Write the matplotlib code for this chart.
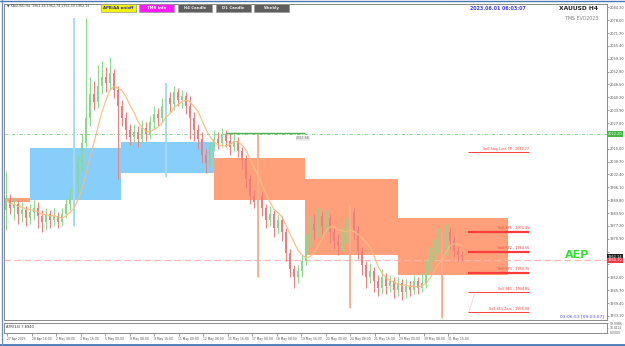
import numpy as np
import pandas as pd
import matplotlib.pyplot as plt
import matplotlib.patches as mpatches
from matplotlib.transforms import blended_transform_factory


# 1 - Data (XAUUSD H4)

opens = np.array([
    1985, 1990, 1986, 1988, 1983, 1985, 1981, 1984, 1986, 1982,
    1979, 1983, 1980, 1982, 1979, 1983, 1988, 1992, 1998, 2008,
    2018, 2030, 2042, 2038, 2046, 2050, 2047, 2052, 2044, 2036,
    2030, 2024, 2021, 2023, 2020, 2025, 2022, 2028, 2032, 2030,
    2036, 2040, 2037, 2043, 2039, 2041, 2036, 2030, 2024, 2020,
    2012, 2008, 2016, 2020, 2018, 2022, 2019, 2016, 2019, 2014,
    2010, 2000, 1992, 1989, 1992, 1986, 1980, 1983, 1976, 1980,
    1974, 1964, 1956, 1952, 1955, 1960, 1970, 1978, 1975, 1982,
    1977, 1981, 1974, 1970, 1968, 1972, 1978, 1984, 1975, 1965,
    1958, 1952, 1955, 1950, 1947, 1952, 1948, 1950, 1946, 1949,
    1945, 1948, 1946, 1950, 1947, 1949, 1958, 1964, 1968, 1972,
    1966, 1974, 1970, 1965, 1963], dtype=float)
closes = np.array([
    1990, 1986, 1988, 1983, 1985, 1981, 1984, 1986, 1982, 1979,
    1983, 1980, 1982, 1979, 1983, 1988, 1992, 1998, 2008, 2018,
    2030, 2042, 2038, 2046, 2050, 2047, 2052, 2044, 2036, 2030,
    2024, 2021, 2023, 2020, 2025, 2022, 2028, 2032, 2030, 2036,
    2040, 2037, 2043, 2039, 2041, 2036, 2030, 2024, 2020, 2012,
    2008, 2016, 2020, 2018, 2022, 2019, 2016, 2019, 2014, 2010,
    2000, 1992, 1989, 1992, 1986, 1980, 1983, 1976, 1980, 1974,
    1964, 1956, 1952, 1955, 1960, 1970, 1978, 1975, 1982, 1977,
    1981, 1974, 1970, 1968, 1972, 1978, 1984, 1975, 1965, 1958,
    1952, 1955, 1950, 1947, 1952, 1948, 1950, 1946, 1949, 1945,
    1948, 1946, 1950, 1947, 1949, 1958, 1964, 1968, 1972, 1966,
    1974, 1970, 1965, 1963, 1962], dtype=float)
highs = np.array([
    2004, 1993, 1991, 1990, 1989, 1987, 1988, 1990, 1989, 1985,
    1986, 1985, 1986, 1984, 1986, 1991, 1996, 2079, 2012, 2022,
    2079, 2050, 2048, 2056, 2058, 2055, 2060, 2054, 2046, 2039,
    2033, 2027, 2027, 2026, 2029, 2028, 2031, 2036, 2035, 2040,
    2047, 2043, 2046, 2045, 2044, 2043, 2041, 2033, 2027, 2023,
    2015, 2019, 2024, 2023, 2025, 2024, 2022, 2023, 2021, 2016,
    2012, 2002, 1995, 2022, 1994, 1988, 1987, 1985, 1983, 1982,
    1976, 1966, 1958, 1958, 1963, 1973, 1982, 1983, 1986, 1984,
    1985, 1983, 1976, 1973, 1976, 1981, 1987, 1986, 1977, 1967,
    1960, 1959, 1957, 1953, 1956, 1954, 1953, 1952, 1952, 1951,
    1951, 1950, 1953, 1952, 1954, 1961, 1967, 1971, 1976, 1974,
    1978, 1976, 1972, 1967, 1965], dtype=float)
lows = np.array([
    1975, 1983, 1980, 1978, 1979, 1977, 1978, 1980, 1976, 1974,
    1975, 1976, 1977, 1976, 1977, 1981, 1985, 1977, 1994, 2004,
    2016, 2026, 2034, 2035, 2042, 2043, 2044, 2040, 2000, 2026,
    2020, 2017, 2018, 2016, 2018, 2019, 2020, 2025, 2026, 2028,
    2001, 2033, 2034, 2036, 2035, 2032, 2020, 2019, 2015, 2008,
    2003, 2006, 2014, 2015, 2016, 2016, 2012, 2014, 2011, 2005,
    1996, 1988, 1986, 1952, 1982, 1976, 1977, 1972, 1973, 1970,
    1960, 1952, 1947, 1949, 1952, 1958, 1967, 1971, 1972, 1973,
    1974, 1969, 1966, 1963, 1965, 1969, 1937, 1971, 1961, 1953,
    1947, 1949, 1945, 1943, 1944, 1944, 1945, 1942, 1943, 1941,
    1942, 1943, 1944, 1944, 1945, 1947, 1955, 1960, 1964, 1932,
    1963, 1966, 1962, 1960, 1960], dtype=float)

# highlighted spike bars (blue = buy spike, salmon = sell spike)
spike_bars = [17, 40, 63, 86, 109]
spike_kind = ["buy", "buy", "sell", "sell", "sell"]

# supply / demand zones: start bar, end bar, top price, bottom price
zone_start  = [-0.5, 6.0, 28.75, 52.0, 74.75, 98.0]
zone_end    = [6.0, 28.75, 52.0, 74.75, 98.0, 125.5]
zone_top    = [1990.9, 2015.4, 2018.3, 2010.5, 2000.2, 1981.1]
zone_bottom = [1988.9, 1989.9, 2003.1, 1989.9, 1962.9, 1953.2]
zone_kind   = ["sell", "buy", "buy", "sell", "sell", "sell"]

sell_names  = ["Sell Stop Loss TP", "Sell SP1", "Sell SP2", "Sell SP3",
               "Sell SE1", "Sell SE1 Zero"]
sell_prices = [2013.27, 1974.45, 1964.56, 1954.35, 1944.85, 1935.08]

green_level = 2022.20
aep_level   = 1960.30
last_price  = 1962.14

y_ticks = [2084.30, 2078.00, 2071.70, 2065.40, 2059.10, 2052.80, 2046.50,
           2040.20, 2033.90, 2027.60, 2021.30, 2015.00, 2008.70, 2002.40,
           1996.10, 1989.80, 1983.50, 1977.20, 1970.90, 1964.60, 1958.30,
           1952.00, 1945.70, 1939.40, 1933.10]

date_labels = ["27 Apr 2023", "28 Apr 16:00", "2 May 08:00", "3 May 16:00",
               "5 May 00:00", "8 May 08:00", "9 May 16:00", "11 May 00:00",
               "12 May 08:00", "15 May 16:00", "17 May 00:00", "18 May 08:00",
               "19 May 16:00", "23 May 00:00", "24 May 08:00", "25 May 16:00",
               "29 May 00:00", "30 May 08:00", "31 May 16:00"]

ind_ticks  = [19.9986, 10.4122, 0.0]


# 2 - Style

W, H = 625, 346
GREEN   = "#8ad88a"
RED     = "#f07c7c"
BLUEZ   = "#87cefa"
SALMON  = "#ffa07a"
SPIKE   = {"buy": "#a9d9f8", "sell": "#ffab8f"}
ZONE    = {"buy": BLUEZ, "sell": SALMON}
AXISCOL = "#8a8a8a"
TICKTXT = "#555555"


def px(x0, y0, x1, y1):
    return [x0 / W, 1 - y1 / H, (x1 - x0) / W, (y1 - y0) / H]


fig = plt.figure(figsize=(W / 100, H / 100), dpi=100)
fig.patch.set_facecolor("white")

ax = fig.add_axes(px(4, 4, 607, 320))
ax.set_xlim(-0.5, 150.25)
ax.set_ylim(2087.9 - 0.49 * 320, 2087.9 - 0.49 * 4)

# zones
for x0, x1, top, bot, kind in zip(zone_start, zone_end, zone_top,
                                  zone_bottom, zone_kind):
    ax.add_patch(mpatches.Rectangle((x0, bot), x1 - x0, top - bot,
                                    facecolor=ZONE[kind], edgecolor="none",
                                    zorder=1))

# candles
idx = np.arange(len(closes))
up = closes >= opens
cols = np.where(up, GREEN, RED)
ax.vlines(idx, lows, highs, colors=cols, lw=0.7, zorder=3)
body = np.maximum(np.abs(closes - opens), 0.5)
ax.bar(idx, body, bottom=np.minimum(opens, closes), width=0.5,
       color=cols, zorder=3)
for b, k in zip(spike_bars, spike_kind):
    ax.vlines(b, lows[b], highs[b], colors=SPIKE[k], lw=1.3, zorder=4)

# moving average
ma = pd.Series(closes).rolling(7, min_periods=1).mean()
ax.plot(idx, ma, color="#f6bd82", lw=0.9, alpha=0.9, zorder=4)

# horizontal levels
ax.axhline(green_level, color="#7fcf7f", lw=0.6, ls=(0, (4, 2, 1, 2)),
           zorder=2)
ax.hlines(green_level + 0.5, 55, 74.75, color="#4caf50", lw=1.0, zorder=5)
ax.text(72.5, green_level - 1.0, "2022.66", fontsize=2.4, color="#666666",
        ha="left", va="top", zorder=6,
        bbox=dict(facecolor="#eeeeee", edgecolor="none", pad=0.3))
ax.axhline(aep_level, color="#ffb3b3", lw=0.9, ls=(0, (5, 3)), zorder=2)

# sell targets
for name, p in zip(sell_names, sell_prices):
    lw = 1.6 if "SP" in name else 0.7
    ax.hlines(p, 115.5, 130.75, color="#ff3b3b", lw=lw, zorder=5)
    ax.text(130.75, p + 0.6, f"{name} - {p:.2f}", fontsize=2.4,
            color="#ff3b3b", ha="right", va="bottom", zorder=6)
ax.plot([117.25, 115.75], [sell_prices[4], sell_prices[5]], color="#ff7b7b",
        lw=0.5, ls=":", zorder=5)

ax.text(142.75, 1963.0, "AEP", color="#2fe22f", fontsize=8,
        fontweight="bold", ha="center", va="center", zorder=6)

# price axis (labels hidden where a price flag covers them, as in MT4)
boxed = [green_level, last_price, aep_level]
ax.yaxis.tick_right()
ax.set_yticks(y_ticks)
ax.set_yticklabels([
    "" if min(abs(v - b) for b in boxed) < 3.2 else f"{v:.2f}"
    for v in y_ticks])
ax.tick_params(axis="y", labelsize=2.5, colors=TICKTXT, length=1.2,
               width=0.4, pad=0.8)
ax.set_xticks([])
for s in ax.spines.values():
    s.set_color(AXISCOL)
    s.set_linewidth(0.7)

trans = blended_transform_factory(ax.transAxes, ax.transData)
for val, fc in [(green_level, "#43b843"), (last_price, "#1e1e1e"),
                (aep_level, "#f03a4a")]:
    ax.text(1.0015, val, f"{val:.2f}", transform=trans, fontsize=2.5,
            color="white", ha="left", va="center", clip_on=False, zorder=10,
            bbox=dict(facecolor=fc, edgecolor="none", pad=0.5))

# indicator panel + time axis
ax2 = fig.add_axes(px(4, 323, 607, 333))
ax2.set_xlim(-0.5, 150.25)
ax2.set_ylim(0, 20)
ax2.yaxis.tick_right()
ax2.set_yticks(ind_ticks)
ax2.set_yticklabels([f"{v:.4f}" for v in ind_ticks])
ax2.tick_params(axis="y", labelsize=2.2, colors=TICKTXT, length=1.0,
                width=0.4, pad=0.8)
ax2.set_xticks(0.25 + 6.125 * np.arange(len(date_labels)))
ax2.set_xticklabels(date_labels, ha="left")
ax2.tick_params(axis="x", labelsize=2.2, colors=TICKTXT, length=2,
                width=0.4, pad=1.2)
for s in ax2.spines.values():
    s.set_color(AXISCOL)
    s.set_linewidth(0.7)
ax2.text(0.004, 0.8, "ATR(14) 7.8940", transform=ax2.transAxes,
         fontsize=2.6, color="#333333", ha="left", va="top")


# 3 - Header texts and buttons

def ftext(x, y, s, **kw):
    fig.text(x / W, 1 - y / H, s, **kw)


ftext(7, 6, "\u25bc XAUUSD,H4  1962.46 1962.74 1961.30 1962.14",
      fontsize=2.3, color="#444444", ha="left", va="center")
ftext(598, 8.5, "XAUUSD H4", fontsize=4.3, fontweight="bold",
      color="#222222", ha="right", va="center")
ftext(598, 18, "TMS EVO2023", fontsize=3.4, color="#808080",
      ha="right", va="center")
ftext(498, 8, "2023.06.01 06:03:07", fontsize=3.4, fontweight="bold",
      color="#3b3bff", ha="center", va="center")
ftext(604, 316.5, "03:06:53 [09:03:07]", fontsize=3.2, color="#5050ff",
      ha="right", va="center")

buttons = [(101, 136, "APB/AA on/off", "#f2f20a", "#2a2aa0"),
           (139, 174, "TMS Info", "#ff1aff", "white"),
           (178, 212, "H4 Candle", "#5e5e5e", "#eeeeee"),
           (216, 251, "D1 Candle", "#5e5e5e", "#eeeeee"),
           (254, 289, "Weekly", "#5e5e5e", "#eeeeee")]
for x0, x1, label, fc, tc in buttons:
    fig.add_artist(mpatches.Rectangle((x0 / W, 1 - 12 / H), (x1 - x0) / W,
                                      8 / H, transform=fig.transFigure,
                                      facecolor=fc, edgecolor="#9a9a9a",
                                      lw=0.5))
    ftext((x0 + x1) / 2, 8, label, fontsize=2.8, fontweight="bold",
          color=tc, ha="center", va="center")

# window frame
fig.add_artist(plt.Line2D([0, 1], [1 - 0.5 / H] * 2, color="#4a78b5",
                          lw=1.0, transform=fig.transFigure))
fig.add_artist(plt.Line2D([0, 1], [1.5 / H] * 2, color="#4a78b5",
                          lw=2.0, transform=fig.transFigure))
fig.add_artist(plt.Line2D([2 / W] * 2, [0, 1], color="#6f8fbf",
                          lw=1.0, transform=fig.transFigure))

fig.savefig("out.png", dpi=100, facecolor="white")
